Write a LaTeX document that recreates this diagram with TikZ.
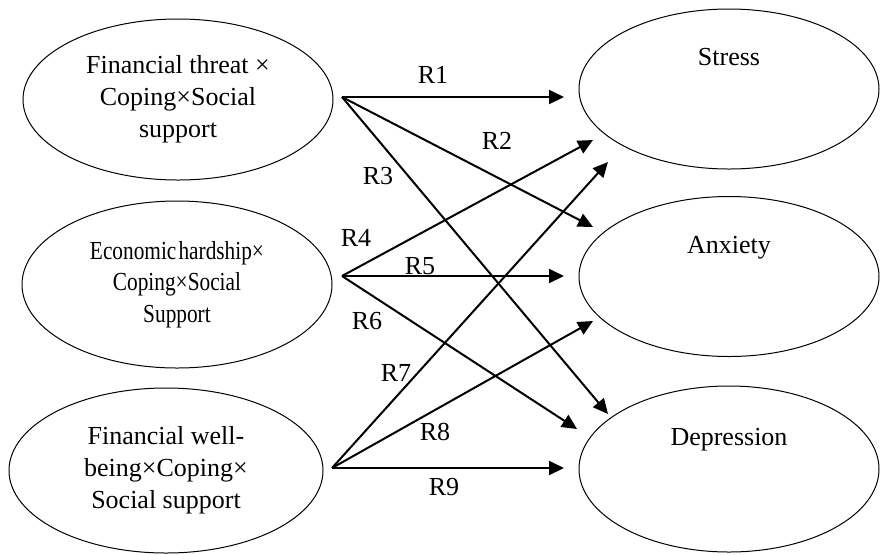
\documentclass[tikz,border=0pt]{standalone}
\usepackage{fontspec}
\setmainfont{Liberation Serif}
\newfontfamily\narrowserif[FakeStretch=0.82,WordSpace=0.4]{Liberation Serif}
\usetikzlibrary{shapes.geometric,arrows.meta}

\begin{document}
\begin{tikzpicture}[x=0.5pt,y=-0.5pt,
    font=\fontsize{13}{16}\selectfont,
    predictor/.style={draw,ellipse,line width=0.5pt,align=center,minimum width=155pt},
    outcome/.style={draw,ellipse,line width=0.5pt,align=center,minimum width=150pt,minimum height=80pt},
    link/.style={line width=1pt,-{Triangle[length=7.5pt,width=7pt]}}]
    \useasboundingbox (0,0) rectangle (880,554);

    % Predictors
    \node[predictor,minimum height=80.5pt] (threat) at (178,99.5) {Financial threat ×\\Coping×Social\\support};
    \node[predictor,minimum height=83.5pt,font=\narrowserif\fontsize{13}{15.75}\selectfont] (hardship) at (177,284.5) {Economic hardship×\\Coping×Social\\Support};
    \node[predictor,minimum width=157pt,minimum height=82.5pt] (wellbeing) at (166,470.5) {Financial well-\\being×Coping×\\Social support};

    % Outcomes
    \node[outcome] (stress) at (729,89) {Stress\\\mbox{}\\\mbox{}};
    \node[outcome] (anxiety) at (729,276.5) {Anxiety\\\mbox{}\\\mbox{}};
    \node[outcome,minimum height=83pt] (depression) at (729,469) {Depression\\\mbox{}\\\mbox{}};

    % Start and end points of the paths
    \coordinate (threatout) at (342,97);
    \coordinate (hardshipout) at (342,276);
    \coordinate (wellbeingout) at (332,468);
    \coordinate (stressin1) at (564,97);
    \coordinate (stressin2) at (593,140);
    \coordinate (stressin3) at (608,162);
    \coordinate (anxietyin1) at (593,227);
    \coordinate (anxietyin2) at (564,276);
    \coordinate (anxietyin3) at (593,321);
    \coordinate (depressionin1) at (608,414);
    \coordinate (depressionin2) at (577,429);
    \coordinate (depressionin3) at (564,468);

    % Paths
    \foreach \a/\b in {threatout/stressin1, threatout/anxietyin1, threatout/depressionin1,
                       hardshipout/stressin2, hardshipout/anxietyin2, hardshipout/depressionin2,
                       wellbeingout/stressin3, wellbeingout/anxietyin3, wellbeingout/depressionin3}
        \draw[link] (\a) -- (\b);

    % Path labels
    \foreach \n/\x/\y in {1/433/75, 2/497/141, 3/378/176, 4/356/238, 5/420/266,
                          6/367/321, 7/396/373, 8/435/432, 9/444/487}
        \node (r\n) at (\x,\y) {R\n};
\end{tikzpicture}
\end{document}
